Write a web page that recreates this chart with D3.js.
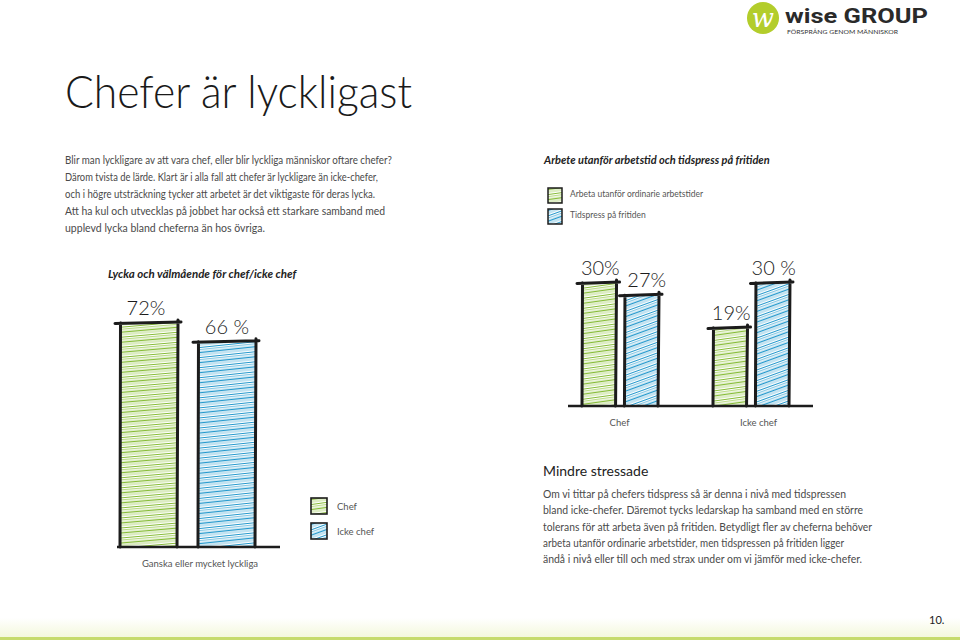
<!DOCTYPE html>
<html>
<head>
<meta charset="utf-8">
<script src="https://cdn.jsdelivr.net/npm/d3@7"></script>
<style>
  body { margin: 0; background: #ffffff; }
  svg { display: block; }
  text { font-family: Lato, 'Open Sans', sans-serif; }
</style>
</head>
<body>
<div id="chart"></div>
<script>
// Data

const happyCategories = ['Chef', 'Icke chef'];
const happyValues = [72, 66];
const happyLabels = ['72%', '66 %'];
const happyAxisLabel = 'Ganska eller mycket lyckliga';

const stressCategories = ['Chef', 'Icke chef'];
const stressSeries = ['Arbeta utanför ordinarie arbetstider', 'Tidspress på fritiden'];
const stressWork = [30, 19];
const stressTime = [27, 30];
const stressLabels = [['30%', '27%'], ['19%', '30 %']];

const introLines = [
  'Blir man lyckligare av att vara chef, eller blir lyckliga människor oftare chefer?',
  'Därom tvista de lärde. Klart är i alla fall att chefer är lyckligare än icke-chefer,',
  'och i högre utsträckning tycker att arbetet är det viktigaste för deras lycka.',
  'Att ha kul och utvecklas på jobbet har också ett starkare samband med',
  'upplevd lycka bland cheferna än hos övriga.'
];
const introWidths = [327, 313, 310, 320, 200];

const stressLines = [
  'Om vi tittar på chefers tidspress så är denna i nivå med tidspressen',
  'bland icke-chefer. Däremot tycks ledarskap ha samband med en större',
  'tolerans för att arbeta även på fritiden. Betydligt fler av cheferna behöver',
  'arbeta utanför ordinarie arbetstider, men tidspressen på fritiden ligger',
  'ändå i nivå eller till och med strax under om vi jämför med icke-chefer.'
];
const stressWidths = [303, 320, 329, 301, 319];

const width = 960, height = 640;
const ink = '#1c1c1c';

const svg = d3.select('#chart').append('svg')
    .attr('width', width)
    .attr('height', height);

const defs = svg.append('defs');

// Hatch patterns that imitate the hand coloured bars.
function hatch(id, dark, light, angle) {
  const p = defs.append('pattern')
      .attr('id', id)
      .attr('patternUnits', 'userSpaceOnUse')
      .attr('width', 40).attr('height', 10)
      .attr('patternTransform', 'rotate(' + angle + ')');
  p.append('rect').attr('width', 40).attr('height', 10).attr('fill', '#ffffff');
  [[1.5, dark, 1.4], [4, light, 1.1], [6.5, dark, 1], [8.7, light, 1.2]].forEach(function(l) {
    p.append('line')
        .attr('x1', 0).attr('x2', 40)
        .attr('y1', l[0]).attr('y2', l[0])
        .attr('stroke', l[1])
        .attr('stroke-width', l[2]);
  });
}
hatch('greenL', '#86bb36', '#b8da84', -5);
hatch('blueL', '#2398cc', '#86c8e4', -6);
hatch('greenR', '#86bb36', '#bcdc88', -8);
hatch('blueR', '#2398cc', '#86c8e4', -20);

const bottomGrad = defs.append('linearGradient')
    .attr('id', 'bottomGrad')
    .attr('x1', '0%').attr('y1', '0%')
    .attr('x2', '0%').attr('y2', '100%');
bottomGrad.append('stop').attr('offset', '0%').attr('stop-color', '#ffffff');
bottomGrad.append('stop').attr('offset', '100%').attr('stop-color', '#f4f8dc');

// Header: logo and title

const logo = svg.append('g');
logo.append('circle')
    .attr('cx', 763).attr('cy', 18).attr('r', 16)
    .attr('fill', '#b3cd2b');
logo.append('text')
    .attr('x', 763).attr('y', 27)
    .attr('text-anchor', 'middle')
    .style('font-family', 'DejaVu Serif, serif')
    .style('font-style', 'italic')
    .style('font-size', '26px')
    .style('fill', '#ffffff')
    .text('w');
logo.append('text')
    .attr('x', 785).attr('y', 23)
    .attr('textLength', 143)
    .attr('lengthAdjust', 'spacingAndGlyphs')
    .style('font-family', 'Roboto, sans-serif')
    .style('font-weight', 700)
    .style('font-size', '21px')
    .style('fill', '#2a2a2a')
    .text('wise GROUP');
logo.append('text')
    .attr('x', 787).attr('y', 34)
    .attr('textLength', 111)
    .attr('lengthAdjust', 'spacingAndGlyphs')
    .style('font-size', '6px')
    .style('fill', '#333')
    .text('FÖRSPRÅNG GENOM MÄNNISKOR');

svg.append('text')
    .attr('x', 65).attr('y', 108)
    .attr('textLength', 347)
    .attr('lengthAdjust', 'spacingAndGlyphs')
    .style('font-family', 'Lato, sans-serif')
    .style('font-weight', 300)
    .style('font-size', '46px')
    .style('fill', '#1a1a1a')
    .text('Chefer är lyckligast');

// Paragraphs

function paragraph(lines, widths, x, y0, step) {
  svg.append('g').selectAll('text')
      .data(lines)
    .enter().append('text')
      .attr('x', x)
      .attr('y', function(d, i) { return y0 + i * step; })
      .attr('textLength', function(d, i) { return widths[i]; })
      .attr('lengthAdjust', 'spacingAndGlyphs')
      .style('font-size', '11px')
      .style('fill', '#4a4a4a')
      .text(function(d) { return d; });
}
paragraph(introLines, introWidths, 65, 164, 17);

svg.append('text')
    .attr('x', 543).attr('y', 476)
    .style('font-size', '14px')
    .style('fill', '#222')
    .text('Mindre stressade');
paragraph(stressLines, stressWidths, 543, 498, 16.3);

// Hand drawn bar: two sides and a top that overshoots a little.
function sketchBar(g, x, y, w, base, fill) {
  g.append('rect')
      .attr('x', x).attr('y', y)
      .attr('width', w).attr('height', base - y)
      .attr('fill', 'url(#' + fill + ')');
  g.append('path')
      .attr('d', 'M' + x + ',' + base + 'L' + (x + 0.5) + ',' + y +
                 'M' + (x - 5) + ',' + (y + 0.5) + 'L' + (x + w + 3) + ',' + (y - 1) +
                 'M' + (x + w) + ',' + (y - 3) + 'L' + (x + w - 1) + ',' + base)
      .attr('fill', 'none')
      .attr('stroke', ink)
      .attr('stroke-width', 3)
      .attr('stroke-linecap', 'round');
}

function handLabel(g, x, y, t) {
  g.append('text')
      .attr('x', x).attr('y', y)
      .attr('text-anchor', 'middle')
      .style('font-family', 'Lato, sans-serif')
      .style('font-weight', 300)
      .style('font-size', '20px')
      .style('fill', ink)
      .text(t);
}

// Left chart: Lycka och välmående

const left = svg.append('g');
const xLeft = d3.scaleBand().domain(happyCategories).range([120, 256]).paddingInner(0.256);
const yLeft = d3.scaleLinear().domain([0, 72]).range([547, 323]);

left.append('text')
    .attr('x', 108).attr('y', 278)
    .style('font-size', '11.5px')
    .style('font-style', 'italic')
    .style('font-weight', 700)
    .style('fill', '#222')
    .text('Lycka och välmående för chef/icke chef');

happyCategories.forEach(function(c, i) {
  sketchBar(left, xLeft(c), yLeft(happyValues[i]), xLeft.bandwidth(), yLeft(0),
            i === 0 ? 'greenL' : 'blueL');
  handLabel(left, xLeft(c) + xLeft.bandwidth() / 2 - 3 + i * 3, yLeft(happyValues[i]) - 8, happyLabels[i]);
});

left.append('line')
    .attr('x1', 117).attr('x2', 280)
    .attr('y1', yLeft(0)).attr('y2', yLeft(0))
    .attr('stroke', ink).attr('stroke-width', 2.5);

left.append('text')
    .attr('x', d3.mean(xLeft.range()) + 12).attr('y', 567)
    .attr('text-anchor', 'middle')
    .style('font-size', '9.5px')
    .style('fill', '#555')
    .text(happyAxisLabel);

// Left legend

const leftLegend = svg.append('g').selectAll('g')
    .data(happyCategories)
  .enter().append('g')
    .attr('transform', function(d, i) { return 'translate(311,' + (498 + i * 25) + ')'; });
leftLegend.append('rect')
    .attr('width', 16).attr('height', 16)
    .attr('fill', function(d, i) { return i === 0 ? 'url(#greenR)' : 'url(#blueR)'; })
    .attr('stroke', ink).attr('stroke-width', 1.6);
leftLegend.append('text')
    .attr('x', 26).attr('y', 12)
    .style('font-size', '9.5px')
    .style('fill', '#555')
    .text(function(d) { return d; });

// Right chart: Arbete utanför arbetstid och tidspress

const right = svg.append('g');
const x0 = d3.scaleBand().domain(stressCategories).range([582, 790]).paddingInner(0.412);
const x1 = d3.scaleBand().domain([0, 1]).range([0, x0.bandwidth()]).paddingInner(0.186);
const yRight = d3.scaleLinear().domain([0, 30]).range([406, 283]);

right.append('text')
    .attr('x', 544).attr('y', 164)
    .style('font-size', '11px')
    .style('font-style', 'italic')
    .style('font-weight', 700)
    .style('fill', '#222')
    .text('Arbete utanför arbetstid och tidspress på fritiden');

const rightLegend = right.append('g').selectAll('g')
    .data(stressSeries)
  .enter().append('g')
    .attr('transform', function(d, i) { return 'translate(548,' + (188 + i * 21) + ')'; });
rightLegend.append('rect')
    .attr('width', 14).attr('height', 15)
    .attr('fill', function(d, i) { return i === 0 ? 'url(#greenR)' : 'url(#blueR)'; })
    .attr('stroke', ink).attr('stroke-width', 1.5);
rightLegend.append('text')
    .attr('x', 22).attr('y', 9)
    .style('font-size', '8.5px')
    .style('fill', '#555')
    .text(function(d) { return d; });

stressCategories.forEach(function(c, i) {
  const vals = [stressWork[i], stressTime[i]];
  vals.forEach(function(v, j) {
    const bx = x0(c) + x1(j);
    sketchBar(right, bx, yRight(v), x1.bandwidth(), yRight(0), j === 0 ? 'greenR' : 'blueR');
    handLabel(right, bx + x1.bandwidth() / 2 + 1 + (i === 0 && j === 1 ? 4 : 0), yRight(v) - 8, stressLabels[i][j]);
  });
  right.append('text')
      .attr('x', x0(c) + x0.bandwidth() / 2 + (i === 0 ? -1 : 7)).attr('y', 426)
      .attr('text-anchor', 'middle')
      .style('font-size', '9.5px')
      .style('fill', '#555')
      .text(c);
});

right.append('line')
    .attr('x1', 568).attr('x2', 813)
    .attr('y1', yRight(0)).attr('y2', yRight(0))
    .attr('stroke', ink).attr('stroke-width', 2.5);

// Footer

svg.append('rect')
    .attr('x', 0).attr('y', 618)
    .attr('width', width).attr('height', 19)
    .attr('fill', 'url(#bottomGrad)');
svg.append('rect')
    .attr('x', 0).attr('y', 637)
    .attr('width', width).attr('height', 3)
    .attr('fill', '#c6db6c');
svg.append('text')
    .attr('x', 929).attr('y', 624)
    .style('font-size', '11px')
    .style('fill', '#222')
    .text('10.');
</script>
</body>
</html>
